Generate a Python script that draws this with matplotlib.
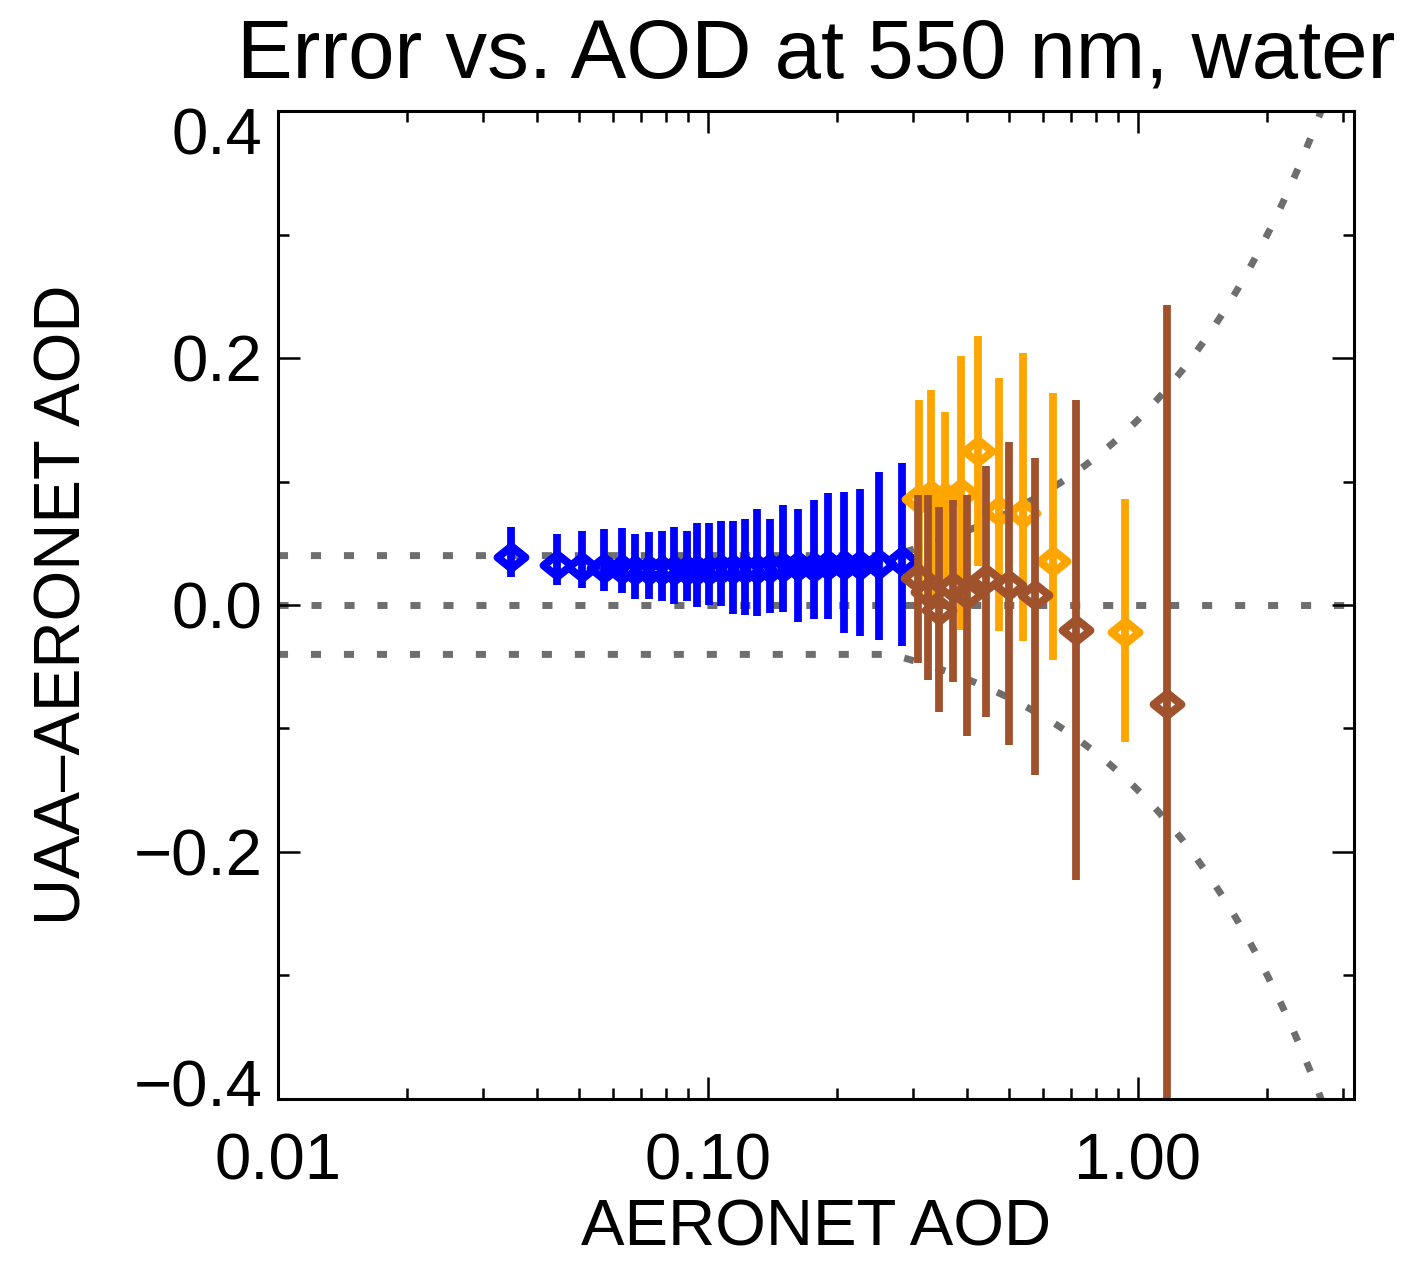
import numpy as np
import matplotlib
matplotlib.use("Agg")
import matplotlib.pyplot as plt
from matplotlib.path import Path
from matplotlib.ticker import FixedLocator, FixedFormatter, NullFormatter
from matplotlib.transforms import ScaledTranslation

plt.rcParams['font.family'] = ['Liberation Sans', 'DejaVu Sans']

# ---- binned statistics: AERONET AOD, mean error, lower / upper spread ----
blue_aod = [0.0348, 0.0445, 0.0509, 0.0574, 0.0630, 0.0676, 0.0729, 0.0780,
            0.0835, 0.0892, 0.0944, 0.1007, 0.1072, 0.1141, 0.1219, 0.1298,
            0.1393, 0.1497, 0.1616, 0.1764, 0.1905, 0.2071, 0.2257, 0.2498,
            0.2821]
blue_err = [0.0386, 0.0324, 0.0310, 0.0300, 0.0290, 0.0280, 0.0280, 0.0280,
            0.0280, 0.0280, 0.0280, 0.0285, 0.0290, 0.0290, 0.0290, 0.0295,
            0.0300, 0.0310, 0.0315, 0.0310, 0.0320, 0.0320, 0.0320, 0.0330,
            0.0360]
blue_lo = [0.0224, 0.0162, 0.0135, 0.0116, 0.0095, 0.0049, 0.0049, 0.0035,
           0.0008, 0.0030, -0.0015, 0.0000, -0.0008, -0.0073, -0.0081, -0.0089,
           -0.0067, -0.0054, -0.0135, -0.0116, -0.0116, -0.0229, -0.0251,
           -0.0283, -0.0332]
blue_hi = [0.0629, 0.0572, 0.0599, 0.0613, 0.0621, 0.0572, 0.0594, 0.0599,
           0.0634, 0.0603, 0.0666, 0.0662, 0.0683, 0.0683, 0.0694, 0.0775,
           0.0694, 0.0810, 0.0777, 0.0850, 0.0909, 0.0917, 0.0937, 0.1079,
           0.1152]

orange_aod = [0.3095, 0.3301, 0.3557, 0.3870, 0.4251, 0.4743, 0.5393, 0.6331,
              0.9343]
orange_err = [0.0858, 0.0891, 0.0874, 0.0907, 0.1247, 0.0761, 0.0745, 0.0356,
              -0.0219]
orange_lo = [0.0056, 0.0040, 0.0190, -0.0200, 0.0316, -0.0208, -0.0289,
             -0.0445, -0.1107]
orange_hi = [0.1660, 0.1740, 0.1560, 0.2016, 0.2178, 0.1836, 0.2043, 0.1717,
             0.0856]

brown_aod = [0.3084, 0.3248, 0.3453, 0.3707, 0.4009, 0.4442, 0.5012, 0.5751,
             0.7166, 1.1660]
brown_err = [0.0216, 0.0108, -0.0040, 0.0148, 0.0089, 0.0208, 0.0162, 0.0081,
             -0.0202, -0.0802]
brown_lo = [-0.0472, -0.0607, -0.0864, -0.0621, -0.1061, -0.0904, -0.1134,
            -0.1377, -0.2227, -0.4030]
brown_hi = [0.0891, 0.0891, 0.0796, 0.0850, 0.0891, 0.1128, 0.1322, 0.1193,
            0.1660, 0.2429]

# expected-error envelope: +/- max(floor, slope * AOD)
EE_FLOOR = 0.04
EE_SLOPE = 0.15

x_major = [0.01, 0.1, 1.0]
x_major_labels = ["0.01", "0.10", "1.00"]
y_major = [-0.4, -0.2, 0.0, 0.2, 0.4]
y_major_labels = ["\u22120.4", "\u22120.2", "0.0", "0.2", "0.4"]

XLIM = (0.01, 3.18)
YLIM = (-0.4, 0.4)

# ---- figure ----
fig = plt.figure(figsize=(14.06, 12.62), dpi=100)
ax = fig.add_axes([0.1977, 0.1292, 0.7653, 0.7828])
ax.set_xscale('log')
ax.set_xlim(*XLIM)
ax.set_ylim(*YLIM)

# reference lines
dot_style = dict(color='#6e6e6e', lw=5, linestyle=(0, (1.45, 3.3)),
                 dash_capstyle='butt', zorder=1)
xs = np.geomspace(XLIM[0], XLIM[1], 400)
env = np.maximum(EE_FLOOR, EE_SLOPE * xs)
ax.plot(xs, np.zeros_like(xs), **dot_style)
ax.plot(xs, env, **dot_style)
ax.plot(xs, -env, **dot_style)

# open diamond symbol
diamond = Path([(-1.0, 0.0), (0.0, 0.8), (1.0, 0.0), (0.0, -0.8), (-1.0, 0.0)],
               [Path.MOVETO, Path.LINETO, Path.LINETO, Path.LINETO, Path.CLOSEPOLY])


def draw_series(x, y, lo, hi, color, z):
    x = np.asarray(x)
    y = np.asarray(y)
    lo = np.asarray(lo)
    hi = np.asarray(hi)
    _, _, bars = ax.errorbar(x, y, yerr=[y - lo, hi - y], fmt='none',
                             ecolor=color, elinewidth=5.6, capsize=0,
                             zorder=z)
    for b in bars:
        b.set_capstyle('butt')
    ax.plot(x, y, ls='none', marker=diamond, ms=20, mfc='none', mec=color,
            mew=5.8, zorder=z + 0.5)


draw_series(blue_aod, blue_err, blue_lo, blue_hi, '#0000ff', 2)
draw_series(orange_aod, orange_err, orange_lo, orange_hi, '#ffa500', 3)
draw_series(brown_aod, brown_err, brown_lo, brown_hi, '#a0522d', 4)

# axes styling
for sp in ax.spines.values():
    sp.set_linewidth(2.2)
    sp.set_zorder(10)

ax.xaxis.set_major_locator(FixedLocator(x_major))
ax.xaxis.set_major_formatter(FixedFormatter(x_major_labels))
x_minor = [m * d for d in (0.01, 0.1, 1.0) for m in range(2, 10)
           if m * d <= XLIM[1]]
ax.xaxis.set_minor_locator(FixedLocator(x_minor))
ax.xaxis.set_minor_formatter(NullFormatter())

ax.yaxis.set_major_locator(FixedLocator(y_major))
ax.yaxis.set_major_formatter(FixedFormatter(y_major_labels))
ax.yaxis.set_minor_locator(FixedLocator([-0.3, -0.1, 0.1, 0.3]))

ax.tick_params(which='both', direction='in', top=True, right=True,
               width=1.8, labelsize=47, color='black')
ax.tick_params(which='major', length=16)
ax.tick_params(which='minor', length=8)
ax.tick_params(axis='x', which='major', pad=24)
ax.tick_params(axis='y', which='major', pad=11)

# pull the end labels of the y axis inside the frame height
fig.canvas.draw()
ylabels = ax.get_yticklabels()
ylabels[0].set_transform(ylabels[0].get_transform()
                         + ScaledTranslation(0, 11.5 / 72, fig.dpi_scale_trans))
ylabels[-1].set_transform(ylabels[-1].get_transform()
                          + ScaledTranslation(0, -14.4 / 72, fig.dpi_scale_trans))

ax.set_title("Error vs. AOD at 550 nm, water", fontsize=60, pad=24)
ax.set_xlabel("AERONET AOD", fontsize=47)
ax.set_ylabel("UAA\u2013AERONET AOD", fontsize=47)
ax.xaxis.set_label_coords(0.5, -0.101)
ax.yaxis.set_label_coords(-0.171, 0.5)

fig.savefig("out.png", dpi=100)
